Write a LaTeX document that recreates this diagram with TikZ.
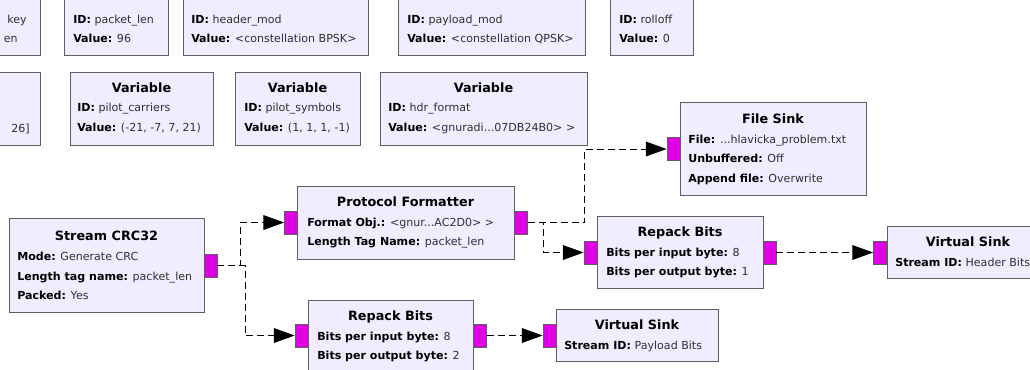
\documentclass[tikz,border=0pt]{standalone}
\usepackage{fontspec}
\setmainfont{DejaVu Sans}
\usepackage{xcolor}
\usetikzlibrary{arrows.meta, positioning}
\definecolor{blockFill}{HTML}{F1ECFF}
\definecolor{blockBorder}{HTML}{5F5F5F}
\definecolor{portFill}{HTML}{E000E6}
\definecolor{valText}{HTML}{303030}

\begin{document}
\begin{tikzpicture}[
    x=0.75pt, y=-0.75pt,
    blk/.style={rectangle, draw=blockBorder, fill=blockFill, line width=1.1pt,
                anchor=north west, inner sep=0pt},
    ttl/.style={font=\fontsize{9.6}{11}\selectfont\bfseries, anchor=mid, inner sep=0pt},
    prm/.style={font=\fontsize{8.3}{10}\selectfont, text=valText, anchor=mid west, inner sep=0pt},
    port/.style={rectangle, draw=blockBorder, fill=portFill, line width=0.6pt,
                 minimum width=9.75pt, minimum height=17.25pt, inner sep=0pt},
    conn/.style={-{Triangle[length=15.5pt, width=11pt]}, line width=0.75pt,
                 dash pattern=on 5.25pt off 3pt, color=black},
]
\useasboundingbox (0,0) rectangle (1030,369);
\clip (0,0) rectangle (1030,369);
\fill[white] (0,0) rectangle (1030,369);

% top row of variables (cut at the top)
\node[blk, minimum width=75pt, minimum height=60pt] (v0) at (-60,-25) {};
\node[prm, anchor=mid east] (v0id) at (27,20) {key};
\node[prm, anchor=mid east] (v0val) at (18,39) {en};

\node[blk, minimum width=78pt, minimum height=60pt] (vplen) at (64,-25) {};
\node[prm] (vplenid) at (73,20) {\textbf{\color{black}ID:} packet\_len};
\node[prm] (vplenval) at (73,39) {\textbf{\color{black}Value:} 96};

\node[blk, minimum width=138.75pt, minimum height=60pt] (vhmod) at (183,-25) {};
\node[prm] (vhmodid) at (191,20) {\textbf{\color{black}ID:} header\_mod};
\node[prm] (vhmodval) at (191,39) {\textbf{\color{black}Value:} <constellation BPSK>};

\node[blk, minimum width=140.25pt, minimum height=60pt] (vpmod) at (398,-25) {};
\node[prm] (vpmodid) at (407,20) {\textbf{\color{black}ID:} payload\_mod};
\node[prm] (vpmodval) at (407,39) {\textbf{\color{black}Value:} <constellation QPSK>};

\node[blk, minimum width=62.25pt, minimum height=60pt] (vroll) at (610,-25) {};
\node[prm] (vrollid) at (619,20) {\textbf{\color{black}ID:} rolloff};
\node[prm] (vrollval) at (619,39) {\textbf{\color{black}Value:} 0};

% second row of variables
\node[blk, minimum width=105pt, minimum height=54.75pt] (v1) at (-100,72) {};
\node[prm, anchor=mid east] (v1val) at (30,129) {26]};

\node[blk, minimum width=107.25pt, minimum height=54.75pt] (vpcar) at (70,72) {};
\node[ttl] (vpcarttl) at (141.5,89) {Variable};
\node[prm] (vpcarid) at (77,108) {\textbf{\color{black}ID:} pilot\_carriers};
\node[prm] (vpcarval) at (77,128) {\textbf{\color{black}Value:} (-21, -7, 7, 21)};

\node[blk, minimum width=93.75pt, minimum height=54.75pt] (vpsym) at (235,72) {};
\node[ttl] (vpsymttl) at (297.5,89) {Variable};
\node[prm] (vpsymid) at (244,108) {\textbf{\color{black}ID:} pilot\_symbols};
\node[prm] (vpsymval) at (244,128) {\textbf{\color{black}Value:} (1, 1, 1, -1)};

\node[blk, minimum width=155.25pt, minimum height=54.75pt] (vhdr) at (380,72) {};
\node[ttl] (vhdrttl) at (483.5,89) {Variable};
\node[prm] (vhdrid) at (388,108) {\textbf{\color{black}ID:} hdr\_format};
\node[prm] (vhdrval) at (388,128) {\textbf{\color{black}Value:} <gnuradi...07DB24B0> >};

% blocks
\node[blk, minimum width=139.5pt, minimum height=69.75pt] (fsink) at (680,102) {};
\node[ttl] (fsinkttl) at (773,120) {File Sink};
\node[prm] (fsinkf) at (688,140) {\textbf{\color{black}File:} ...hlavicka\_problem.txt};
\node[prm] (fsinku) at (688,159) {\textbf{\color{black}Unbuffered:} Off};
\node[prm] (fsinka) at (688,179) {\textbf{\color{black}Append file:} Overwrite};
\node[port] (fsinkin) at (673.5,149) {};

\node[blk, minimum width=146.25pt, minimum height=70.5pt] (crc) at (9,218) {};
\node[ttl] (crcttl) at (106.5,237) {Stream CRC32};
\node[prm] (crcmode) at (17,257) {\textbf{\color{black}Mode:} Generate CRC};
\node[prm] (crclen) at (17,277) {\textbf{\color{black}Length tag name:} packet\_len};
\node[prm] (crcpack) at (17,296) {\textbf{\color{black}Packed:} Yes};
\node[port] (crcout) at (210.5,265.5) {};

\node[blk, minimum width=162.75pt, minimum height=54.75pt] (proto) at (297,186) {};
\node[ttl] (protottl) at (405.5,203) {Protocol Formatter};
\node[prm] (protofmt) at (307,223) {\textbf{\color{black}Format Obj.:} <gnur...AC2D0> >};
\node[prm] (protolen) at (307,242) {\textbf{\color{black}Length Tag Name:} packet\_len};
\node[port] (protoin) at (291,222.5) {};
\node[port] (protoout) at (521,222.5) {};

\node[blk, minimum width=124.5pt, minimum height=54pt] (rpkhdr) at (597,216) {};
\node[ttl] (rpkhdrttl) at (680,233) {Repack Bits};
\node[prm] (rpkhdrin) at (606,253) {\textbf{\color{black}Bits per input byte:} 8};
\node[prm] (rpkhdrout) at (606,272) {\textbf{\color{black}Bits per output byte:} 1};
\node[port] (rpkhdrpin) at (590.5,252.5) {};
\node[port] (rpkhdrpout) at (769.5,252.5) {};

\node[blk, minimum width=121.5pt, minimum height=39pt] (vshdr) at (887,226) {};
\node[ttl] (vshdrttl) at (968,243) {Virtual Sink};
\node[prm] (vshdrid) at (895,263) {\textbf{\color{black}Stream ID:} Header Bits};
\node[port] (vshdrin) at (880,252.5) {};

\node[blk, minimum width=123.75pt, minimum height=60pt] (rpkpld) at (308,300) {};
\node[ttl] (rpkpldttl) at (390.5,317) {Repack Bits};
\node[prm] (rpkpldin) at (317,337) {\textbf{\color{black}Bits per input byte:} 8};
\node[prm] (rpkpldout) at (317,356) {\textbf{\color{black}Bits per output byte:} 2};
\node[port] (rpkpldpin) at (301.5,335.5) {};
\node[port] (rpkpldpout) at (480,335.5) {};

\node[blk, minimum width=121.5pt, minimum height=39pt] (vspld) at (556,309) {};
\node[ttl] (vspldttl) at (637,326) {Virtual Sink};
\node[prm] (vspldid) at (564,346) {\textbf{\color{black}Stream ID:} Payload Bits};
\node[port] (vspldin) at (549.5,335.5) {};

% connections
\draw[conn] (crcout.east) -- ++(23,0) |- (protoin.west);
\draw[conn] (crcout.east) -- ++(28,0) |- (rpkpldpin.west);
\draw[conn] (protoout.east) -- ++(57,0) |- (fsinkin.west);
\draw[conn] (protoout.east) -- ++(16,0) |- (rpkhdrpin.west);
\draw[conn] (rpkhdrpout.east) -- (vshdrin.west);
\draw[conn] (rpkpldpout.east) -- (vspldin.west);

\end{tikzpicture}
\end{document}
